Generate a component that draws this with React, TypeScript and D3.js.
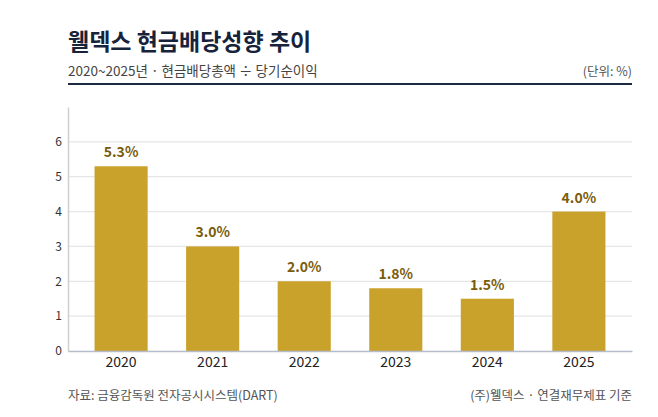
import React, { useEffect, useRef } from 'react';
import * as d3 from 'd3';

const years = ['2020', '2021', '2022', '2023', '2024', '2025'];
const payoutRatio = [5.3, 3.0, 2.0, 1.8, 1.5, 4.0];
const yTicks = [0, 1, 2, 3, 4, 5, 6];

const title = '웰덱스 현금배당성향 추이';
const subtitle = '2020~2025년 · 현금배당총액 ÷ 당기순이익';
const unitLabel = '(단위: %)';
const sourceLabel = '자료: 금융감독원 전자공시시스템(DART)';
const noteLabel = '(주)웰덱스 · 연결재무제표 기준';

const FONT = "'Noto Sans CJK KR', 'Noto Sans', sans-serif";

const App: React.FC = () => {
  const svgRef = useRef<SVGSVGElement>(null);

  useEffect(() => {
    const svg = d3.select(svgRef.current);
    svg.selectAll('*').remove();

    const W = 658;
    const H = 417;
    const left = 68;
    const right = 632;
    const top = 107;
    const bottom = 351;

    svg.attr('width', W).attr('height', H).style('font-family', FONT);
    svg.append('rect').attr('width', W).attr('height', H).attr('fill', '#fff');

    // header
    svg.append('text')
      .attr('x', left).attr('y', 50)
      .attr('fill', '#16233b')
      .style('font-size', '23px').style('font-weight', 700)
      .text(title);

    svg.append('text')
      .attr('x', left).attr('y', 76)
      .attr('fill', '#444')
      .style('font-size', '13.5px')
      .text(subtitle);

    svg.append('text')
      .attr('x', right).attr('y', 76)
      .attr('text-anchor', 'end')
      .attr('fill', '#555')
      .style('font-size', '12.5px')
      .text(unitLabel);

    svg.append('line')
      .attr('x1', left).attr('x2', right)
      .attr('y1', 84).attr('y2', 84)
      .attr('stroke', '#1c2a40').attr('stroke-width', 2);

    // scales
    const x = d3.scaleBand()
      .domain(years)
      .range([left, right])
      .paddingInner(0.42)
      .paddingOuter(0.29);

    const y = d3.scaleLinear().domain([0, 7]).range([bottom, top]);

    // gridlines
    svg.append('g')
      .selectAll('line')
      .data(yTicks.filter(t => t > 0))
      .enter()
      .append('line')
      .attr('x1', left + 1).attr('x2', right)
      .attr('y1', d => y(d)).attr('y2', d => y(d))
      .attr('stroke', '#e6e6e6').attr('stroke-width', 1.2);

    // y axis
    const yAxis = svg.append('g')
      .attr('transform', `translate(${left},0)`)
      .call(d3.axisLeft(y).tickValues(yTicks).tickSize(0).tickPadding(6).tickFormat(d3.format('d')));
    yAxis.select('.domain').attr('stroke', '#cfcfcf').attr('stroke-width', 1.5);
    yAxis.selectAll('text')
      .attr('fill', '#333')
      .style('font-size', '12px')
      .style('font-family', FONT);

    // bars
    svg.append('g')
      .selectAll('rect')
      .data(years)
      .enter()
      .append('rect')
      .attr('x', d => x(d) || 0)
      .attr('y', (d, i) => y(payoutRatio[i]))
      .attr('width', x.bandwidth())
      .attr('height', (d, i) => bottom - y(payoutRatio[i]))
      .attr('fill', '#c9a22b');

    // value labels
    svg.append('g')
      .selectAll('text')
      .data(years)
      .enter()
      .append('text')
      .attr('x', d => (x(d) || 0) + x.bandwidth() / 2)
      .attr('y', (d, i) => y(payoutRatio[i]) - 9)
      .attr('text-anchor', 'middle')
      .attr('fill', '#7a5c0c')
      .style('font-size', '14px')
      .style('font-weight', 700)
      .text((d, i) => `${payoutRatio[i].toFixed(1)}%`);

    // x axis
    const xAxis = svg.append('g')
      .attr('transform', `translate(0,${bottom})`)
      .call(d3.axisBottom(x).tickSize(0).tickPadding(6));
    xAxis.select('.domain').attr('stroke', '#b5bccb').attr('stroke-width', 1.5);
    xAxis.selectAll('text')
      .attr('fill', '#222')
      .style('font-size', '14px')
      .style('font-family', FONT);

    // footer
    svg.append('text')
      .attr('x', left).attr('y', 400)
      .attr('fill', '#555')
      .style('font-size', '12.5px')
      .text(sourceLabel);

    svg.append('text')
      .attr('x', right).attr('y', 400)
      .attr('text-anchor', 'end')
      .attr('fill', '#555')
      .style('font-size', '12.5px')
      .text(noteLabel);
  }, []);

  return (
    <div style={{ margin: -8 }}>
      <svg ref={svgRef} style={{ display: 'block' }}></svg>
    </div>
  );
};

export default App;
